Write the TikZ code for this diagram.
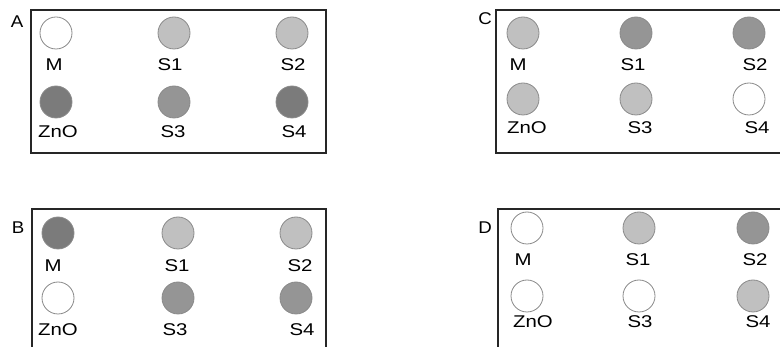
\documentclass[tikz,border=0pt]{standalone}
\usepackage{fontspec}
\setmainfont{Liberation Sans}
\definecolor{cwhite}{HTML}{FFFFFF}
\definecolor{clight}{HTML}{C0C0C0}
\definecolor{cmid}{HTML}{959595}
\definecolor{cdark}{HTML}{7B7B7B}
\definecolor{cline}{HTML}{8A8A8A}
\begin{document}
\begin{tikzpicture}[x=1pt,y=-1pt,
  panel/.style={draw=black!85,line width=1.3pt},
  spot/.style={circle,draw=cline,line width=0.8pt,minimum size=32pt,inner sep=0pt},
  lab/.style={font=\fontsize{17}{19}\selectfont,inner sep=0pt,xscale=1.2,transform shape},
  plab/.style={font=\fontsize{17}{19}\selectfont,inner sep=0pt,xscale=1.1,transform shape}]
\useasboundingbox (0,0) rectangle (780,347);
% Panel A
\draw[panel] (31,10) rectangle (326,153);
\node[plab] (tA) at (17,22) {A};
\node[spot,fill=cwhite] (aM) at (56,33) {};
\node[spot,fill=clight] (aS1) at (174,33) {};
\node[spot,fill=clight] (aS2) at (292,33) {};
\node[spot,fill=cdark] (aZ) at (56,102) {};
\node[spot,fill=cmid] (aS3) at (174,102) {};
\node[spot,fill=cdark] (aS4) at (292,102) {};
\node[lab] (aMl) at (54,65) {M};
\node[lab] (aS1l) at (170,65) {S1};
\node[lab] (aS2l) at (293,65) {S2};
\node[lab] (aZl) at (58,132) {ZnO};
\node[lab] (aS3l) at (173,132) {S3};
\node[lab] (aS4l) at (294,132) {S4};
% Panel C
\draw[panel] (785,10) -- (496,10) -- (496,153) -- (785,153);
\node[plab] (tC) at (485,19) {C};
\node[spot,fill=clight] (cM) at (523,33) {};
\node[spot,fill=cmid] (cS1) at (636,33) {};
\node[spot,fill=cmid] (cS2) at (749,33) {};
\node[spot,fill=clight] (cZ) at (523,99) {};
\node[spot,fill=clight] (cS3) at (636,99) {};
\node[spot,fill=cwhite] (cS4) at (749,99) {};
\node[lab] (cMl) at (518,65) {M};
\node[lab] (cS1l) at (633,65) {S1};
\node[lab] (cS2l) at (755,65) {S2};
\node[lab] (cZl) at (527,128) {ZnO};
\node[lab] (cS3l) at (640,128) {S3};
\node[lab] (cS4l) at (757,128) {S4};
% Panel B
\draw[panel] (32,352) -- (32,209) -- (326,209) -- (326,352);
\node[plab] (tB) at (18,228) {B};
\node[spot,fill=cdark] (bM) at (58,233) {};
\node[spot,fill=clight] (bS1) at (178,233) {};
\node[spot,fill=clight] (bS2) at (296,233) {};
\node[spot,fill=cwhite] (bZ) at (58,298) {};
\node[spot,fill=cmid] (bS3) at (178,298) {};
\node[spot,fill=cmid] (bS4) at (296,298) {};
\node[lab] (bMl) at (53,266) {M};
\node[lab] (bS1l) at (177,266) {S1};
\node[lab] (bS2l) at (300,266) {S2};
\node[lab] (bZl) at (58,330) {ZnO};
\node[lab] (bS3l) at (175,330) {S3};
\node[lab] (bS4l) at (302,330) {S4};
% Panel D
\draw[panel] (498,352) -- (498,209) -- (785,209);
\node[plab] (tD) at (485,228) {D};
\node[spot,fill=cwhite] (dM) at (527,228) {};
\node[spot,fill=clight] (dS1) at (639,228) {};
\node[spot,fill=cmid] (dS2) at (753,228) {};
\node[spot,fill=cwhite] (dZ) at (527,296) {};
\node[spot,fill=cwhite] (dS3) at (639,296) {};
\node[spot,fill=clight] (dS4) at (753,296) {};
\node[lab] (dMl) at (523,260) {M};
\node[lab] (dS1l) at (638,260) {S1};
\node[lab] (dS2l) at (755,260) {S2};
\node[lab] (dZl) at (533,322) {ZnO};
\node[lab] (dS3l) at (640,322) {S3};
\node[lab] (dS4l) at (758,322) {S4};
\end{tikzpicture}
\end{document}
